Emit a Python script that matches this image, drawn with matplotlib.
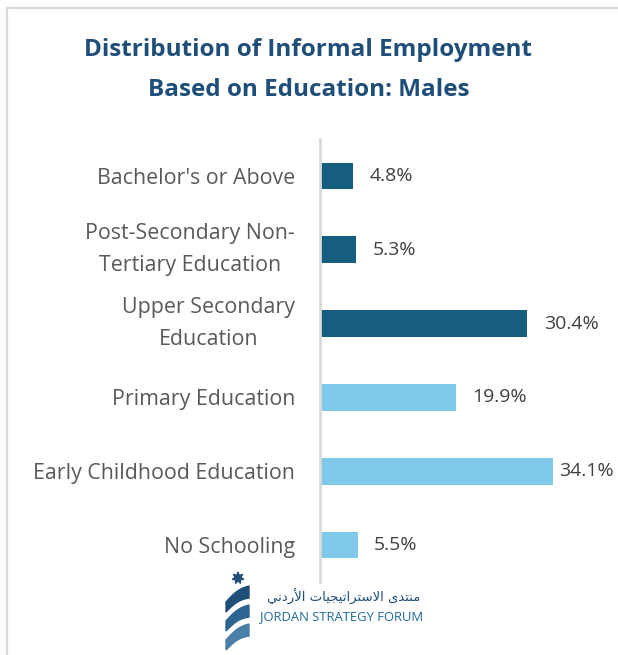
import matplotlib
matplotlib.use("Agg")
import numpy as np
import matplotlib.pyplot as plt
from matplotlib.patches import Rectangle, Polygon

# data, top to bottom as in the chart
categories = ["Bachelor's or Above", "Post-Secondary Non-\nTertiary Education",
              "Upper Secondary\nEducation", "Primary Education",
              "Early Childhood Education", "No Schooling"]
values = [4.8, 5.3, 30.4, 19.9, 34.1, 5.5]
bar_colors = ["#165e80", "#165e80", "#165e80", "#7fc9eb", "#7fc9eb", "#7fc9eb"]
title = "Distribution of Informal Employment\nBased on Education: Males"

W, H = 618, 655
fig = plt.figure(figsize=(W / 100, H / 100), dpi=100)
fig.patch.set_facecolor("white")

# light grey frame around the card
fig.patches.append(Rectangle((7 / W, -0.05), 1.2, 1 - 8 / H + 0.05, transform=fig.transFigure,
                             fill=False, edgecolor="#d9d9d9", linewidth=1.6))

ax = fig.add_axes([320 / W, 1 - 582 / H, 273 / W, 443 / H])
ypos = list(range(len(categories)))[::-1]
ax.barh(ypos, values, height=0.36, color=bar_colors)
ax.set_ylim(-0.5, len(categories) - 0.5)
ax.set_xlim(0, 40)
ax.set_yticks(ypos)
ax.set_yticklabels(categories, fontsize=15.4, color="#595959", family="Open Sans",
                   linespacing=1.7, multialignment="center")
for lbl in ax.get_yticklabels():
    if "\n" in lbl.get_text():
        lbl.set_va("center")
ax.tick_params(axis="y", length=0, pad=18)
ax.set_xticks([])
for s in ["top", "right", "bottom"]:
    ax.spines[s].set_visible(False)
ax.spines["left"].set_color("#d9d9d9")
ax.spines["left"].set_linewidth(2)

vmax = max(values)
for y, v in zip(ypos, values):
    pad = 4.5 if v == vmax else 12
    ax.annotate(f"{v:.1f}%", (v, y), xytext=(pad, 0), textcoords="offset points",
                va="center", ha="left", fontsize=14, color="#404040", family="Open Sans")

fig.text(0.499, 1 - 70 / H, title, ha="center", va="center", fontsize=17.5,
         fontweight="bold", color="#1f4e79", family="Open Sans", linespacing=1.88)

# logo: star + three ribbon bands
fx = lambda x: x / W
fy = lambda y: 1 - y / H
ang = np.linspace(0, 2 * np.pi, 15)[:-1] + np.pi / 2
rad = np.where(np.arange(14) % 2 == 0, 6.0, 2.8)
star = [(fx(238 + r * np.cos(a)), fy(578 - r * np.sin(a))) for r, a in zip(rad, ang)]
fig.patches.append(Polygon(star, closed=True, transform=fig.transFigure, color="#1f4e79"))
t = np.linspace(0, 1, 12)
for i, c in enumerate(["#1f4e79", "#2d6590", "#4a7fa8"]):
    y0 = 586 + i * 19
    top = [(226 + 23 * s, y0 + 16 - 16 * s - 3 * np.sin(np.pi * s)) for s in t]
    bot = [(226 + 23 * s, y0 + 26 - 14 * s - 3 * np.sin(np.pi * s)) for s in t[::-1]]
    fig.patches.append(Polygon([(fx(a), fy(b)) for a, b in top + bot], closed=True,
                               transform=fig.transFigure, color=c))

# Arabic name, shaped with presentation forms, in visual order
arabic = ("\uFEE3\uFEE8\uFE98\uFEAA\uFEEF" + " " +
          "\uFE8D\uFEFB\uFEB3\uFE98\uFEAE\uFE8D\uFE97\uFEF4\uFEA0\uFEF4\uFE8E\uFE95" + " " +
          "\uFE8D\uFEF7\uFEAD\uFEA9\uFEE7\uFEF2")
fig.text(fx(420), fy(597), arabic[::-1], ha="right", va="center", fontsize=9.5,
         color="#1f4e79", family="DejaVu Sans")
fig.text(fx(260), fy(617), "JORDAN STRATEGY FORUM", ha="left", va="center", fontsize=9.4,
         color="#1f6a99", family="Open Sans")

fig.savefig("out.png", dpi=100, facecolor="white")
